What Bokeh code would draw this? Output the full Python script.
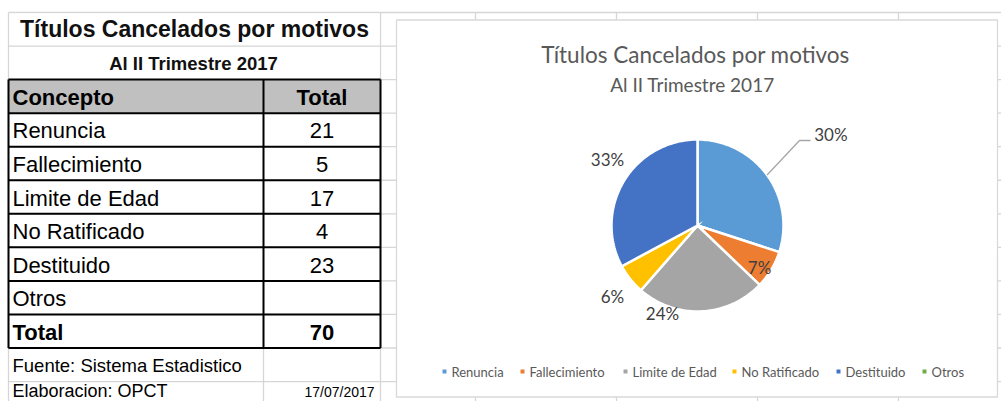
import numpy as np
from bokeh.plotting import figure
from bokeh.models import Range1d
from bokeh.embed import file_html
from bokeh.resources import INLINE
from bokeh.core.properties import value

# ---------------- data ----------------
table_title = "Títulos Cancelados por motivos"
table_subtitle = "Al II Trimestre 2017"
col_headers = ["Concepto", "Total"]
categories = ["Renuncia", "Fallecimiento", "Limite de Edad", "No Ratificado", "Destituido", "Otros"]
totals = [21, 5, 17, 4, 23, None]
total_label = "Total"
grand_total = 70
source_note = "Fuente: Sistema Estadistico"
author_note = "Elaboracion: OPCT"
date_note = "17/07/2017"
chart_title = "Títulos Cancelados por motivos"
chart_subtitle = "Al II Trimestre 2017"

# ---------------- styles ----------------
colors = ["#5B9BD5", "#ED7D31", "#A5A5A5", "#FFC000", "#4472C4", "#70AD47"]
GRID = "#D6D6D6"
TFONT = value("Liberation Sans")
CFONT = value("Lato")
# label placement: (angle offset in degrees from slice middle, radius factor)
label_place = [(1.7, 1.878), (3.2, 0.871), (24.3, 1.101), (-1.3, 1.288), (5.4, 1.298), (0, 1.2)]
legend_x = [444, 522, 625, 734, 838, 924]

W, H = 1001, 401
p = figure(width=W, height=H, x_range=Range1d(0, W), y_range=Range1d(H, 0),
           output_backend="svg", toolbar_location=None, min_border=0,
           x_axis_location=None, y_axis_location=None)
p.grid.visible = False
p.outline_line_color = None
p.background_fill_color = "white"
p.border_fill_color = "white"

# ---------------- spreadsheet grid ----------------
top0 = 12.0
row_h = 33.55
row_lines = [top0 + i * row_h for i in range(12)]
X_L, X_MID, X_R = 8, 263, 380
p.segment(x0=[X_L] * len(row_lines), x1=[1001] * len(row_lines), y0=row_lines, y1=row_lines,
          line_color=GRID, line_width=1.3)
vcols = [X_L, X_R, 475, 616, 757, 898]
p.segment(x0=vcols, x1=vcols, y0=[top0] * len(vcols), y1=[401] * len(vcols), line_color=GRID, line_width=1.3)
p.segment(x0=[X_MID], x1=[X_MID], y0=[row_lines[10]], y1=[401], line_color=GRID, line_width=1.3)
# white out title-row internal grid
p.quad(left=[X_L + 1], right=[X_R - 1], top=[top0 + 1], bottom=[row_lines[1] - 1], fill_color="white", line_color=None)
p.quad(left=[X_L + 1], right=[X_R - 1], top=[row_lines[1] + 1], bottom=[row_lines[2] - 1], fill_color="white", line_color=None)

# ---------------- table ----------------
p.text(x=[(X_L + X_R) / 2], y=[(row_lines[0] + row_lines[1]) / 2], text=[table_title],
       text_font=TFONT, text_font_style="bold", text_font_size="23px", text_color="#111111",
       text_align="center", text_baseline="middle")
p.text(x=[(X_L + X_R) / 2 - 1], y=[(row_lines[1] + row_lines[2]) / 2 + 1], text=[table_subtitle],
       text_font=TFONT, text_font_style="bold", text_font_size="18.5px", text_color="#111111",
       text_align="center", text_baseline="middle")

# header fill
p.quad(left=[X_L], right=[X_R], top=[row_lines[2]], bottom=[row_lines[3]], fill_color="#C0C0C0", line_color=None)
# black borders
p.segment(x0=[X_L] * 9, x1=[X_R] * 9, y0=row_lines[2:11], y1=row_lines[2:11], line_color="black", line_width=2)
p.segment(x0=[X_L, X_MID, X_R], x1=[X_L, X_MID, X_R], y0=[row_lines[2]] * 3, y1=[row_lines[10]] * 3,
          line_color="black", line_width=2)

def row_mid(i):
    return (row_lines[i] + row_lines[i + 1]) / 2 + 1

p.text(x=[12], y=[row_mid(2)], text=[col_headers[0]], text_font=TFONT, text_font_style="bold",
       text_font_size="22px", text_color="black", text_align="left", text_baseline="middle")
p.text(x=[(X_MID + X_R) / 2], y=[row_mid(2)], text=[col_headers[1]], text_font=TFONT, text_font_style="bold",
       text_font_size="22px", text_color="black", text_align="center", text_baseline="middle")
for i, (c, v) in enumerate(zip(categories, totals)):
    p.text(x=[12], y=[row_mid(3 + i)], text=[c], text_font=TFONT, text_font_size="22px",
           text_color="black", text_align="left", text_baseline="middle")
    if v is not None:
        p.text(x=[(X_MID + X_R) / 2], y=[row_mid(3 + i)], text=[str(v)], text_font=TFONT, text_font_size="22px",
               text_color="black", text_align="center", text_baseline="middle")
p.text(x=[12], y=[row_mid(9)], text=[total_label], text_font=TFONT, text_font_style="bold",
       text_font_size="22px", text_color="black", text_align="left", text_baseline="middle")
p.text(x=[(X_MID + X_R) / 2], y=[row_mid(9)], text=[str(grand_total)], text_font=TFONT, text_font_style="bold",
       text_font_size="22px", text_color="black", text_align="center", text_baseline="middle")
p.text(x=[12], y=[row_mid(10)], text=[source_note], text_font=TFONT, text_font_size="18.5px",
       text_color="black", text_align="left", text_baseline="middle")
p.text(x=[12], y=[row_lines[11] + 9.5], text=[author_note], text_font=TFONT, text_font_size="18px",
       text_color="black", text_align="left", text_baseline="middle")
p.text(x=[339], y=[row_lines[11] + 10.5], text=[date_note], text_font=TFONT, text_font_size="14px",
       text_color="black", text_align="center", text_baseline="middle")

# ---------------- chart area ----------------
p.quad(left=[396], right=[997], top=[19.5], bottom=[396.5], fill_color="white", line_color="#D9D9D9", line_width=1.3)
p.text(x=[695], y=[54], text=[chart_title], text_font=CFONT, text_font_size="22.5px", text_color="#595959",
       text_align="center", text_baseline="middle")
p.text(x=[692], y=[84], text=[chart_subtitle], text_font=CFONT, text_font_size="19px", text_color="#595959",
       text_align="center", text_baseline="middle")

# pie
cx, cy, R = 697, 225, 86
vals = [v if v is not None else 0 for v in totals]
tot = float(sum(vals))
cum = np.concatenate([[0], np.cumsum(vals)]) / tot
xs_list, ys_list, fills = [], [], []
for i, v in enumerate(vals):
    if v <= 0:
        continue
    th = np.linspace(cum[i], cum[i + 1], 80) * 2 * np.pi
    xs_list.append([cx] + list(cx + R * np.sin(th)))
    ys_list.append([cy] + list(cy - R * np.cos(th)))
    fills.append(colors[i])
p.patches(xs_list, ys_list, fill_color=fills, line_color="white", line_width=2.5, line_join="miter")

# percent labels
for i, v in enumerate(vals):
    if v <= 0:
        continue
    mid = (cum[i] + cum[i + 1]) / 2 * 360 + label_place[i][0]
    rr = R * label_place[i][1]
    lx = cx + rr * np.sin(np.radians(mid))
    ly = cy - rr * np.cos(np.radians(mid))
    p.text(x=[lx], y=[ly], text=[f"{round(v / tot * 100)}%"], text_font=CFONT, text_font_size="17px",
           text_color="#404040", text_align="center", text_baseline="middle")
    if i == 0:
        am = (cum[i] + cum[i + 1]) / 2 * 2 * np.pi
        ax, ay = cx + R * np.sin(am), cy - R * np.cos(am)
        p.line([ax, 799, 810], [ay, 140, 140], line_color="#A6A6A6", line_width=1.3)

# legend
for i, c in enumerate(categories):
    p.rect(x=[legend_x[i]], y=[371], width=4, height=4, fill_color=colors[i], line_color=None)
    p.text(x=[legend_x[i] + 7], y=[371.5], text=[c], text_font=CFONT, text_font_size="13px",
           text_color="#595959", text_align="left", text_baseline="middle")

open("out.html", "w").write(file_html(p, INLINE))
